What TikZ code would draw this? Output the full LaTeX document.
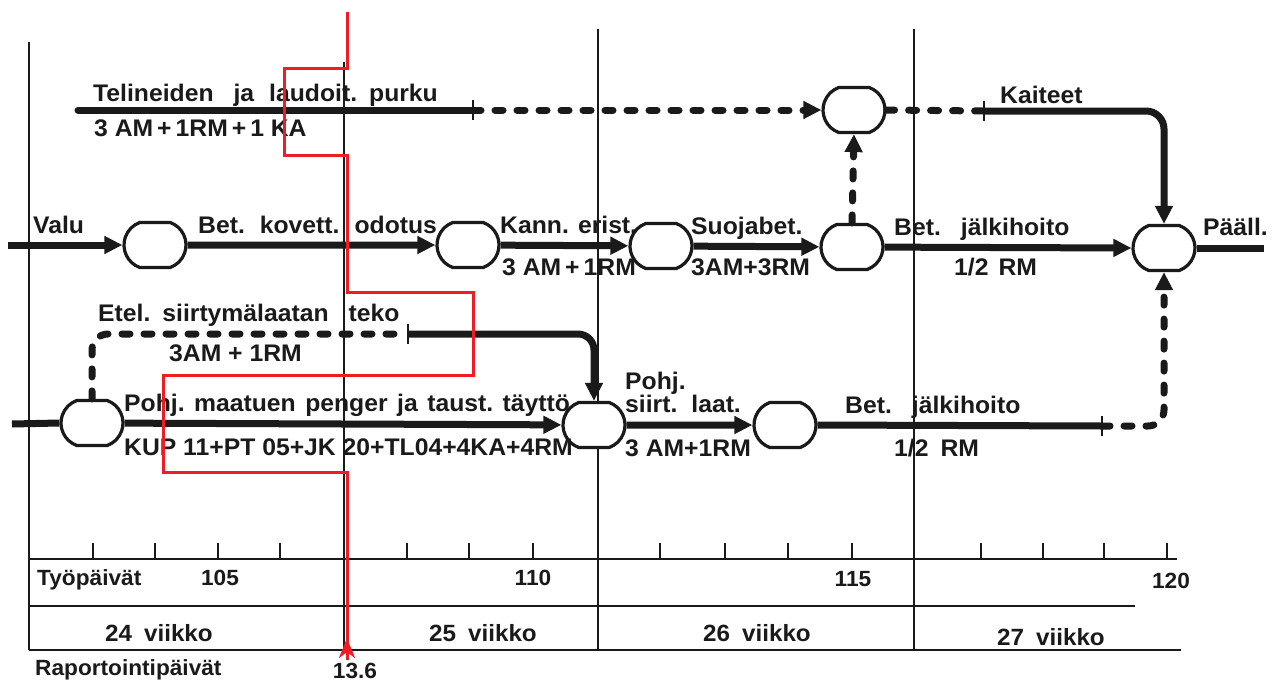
\documentclass[tikz,border=0pt]{standalone}
\usepackage{fontspec}
\setmainfont{Liberation Sans}[FakeStretch=1.03]
\usetikzlibrary{arrows.meta,shapes.misc}
\definecolor{ink}{HTML}{1A1A1A}
\definecolor{redl}{HTML}{EE1C24}
\begin{document}
\begin{tikzpicture}[x=1pt,y=-1pt,
  evt/.style={draw=ink, line width=3.2pt, rounded rectangle, rounded rectangle arc length=140, minimum width=62pt, minimum height=45pt, inner sep=0pt, fill=white},
  act/.style={draw=ink, line width=7pt},
  arr/.style={-{Triangle[length=18pt,width=17pt]}},
  dsh/.style={line cap=round, dash pattern=on 8pt off 14pt},
  thinl/.style={draw=ink, line width=1.9pt},
  tickm/.style={draw=ink, line width=2pt},
  lab/.style={font=\fontsize{24}{26}\selectfont\bfseries, inner sep=0pt, anchor=base west, text=ink},
  sml/.style={font=\fontsize{22}{24}\selectfont\bfseries, inner sep=0pt, text=ink},
  wk/.style={font=\fontsize{23.5}{26}\selectfont\bfseries, inner sep=0pt, text=ink, anchor=base},
  redline/.style={draw=redl, line width=3pt}
]
\useasboundingbox[fill=white] (0,0) rectangle (1278,683);

% week / grid lines
\draw[thinl] (29,42) -- (29,650);
\draw[thinl] (344,62) -- (344,650);
\draw[thinl] (598,29) -- (598,650);
\draw[thinl] (914,29) -- (914,650);
\draw[thinl] (29,559) -- (1177,559);
\draw[thinl] (29,606) -- (1135,606);
\draw[thinl] (29,650) -- (1181,650);
\foreach \tx in {93,155,218,280,407,469,533,660,725,788,852,981,1043,1104,1167}
  \draw[tickm] (\tx,543) -- (\tx,559);

% events
\node[evt] (n1) at (155,245) {};
\node[evt] (n2) at (468,245) {};
\node[evt] (n3) at (661,246) {};
\node[evt] (n4) at (852,247) {};
\node[evt] (n5) at (1164,248) {};
\node[evt] (t)  at (854,110) {};
\node[evt] (b1) at (92,423) {};
\node[evt] (b2) at (594,425) {};
\node[evt] (b3) at (785,425) {};

% free ends and ticks
\coordinate (vs) at (8,245);
\coordinate (ve) at (1264,248);
\coordinate (ts) at (78,110);
\coordinate (k1) at (473,110);
\coordinate (k2) at (984,111);
\coordinate (bs) at (12,424);
\coordinate (k3) at (408,334);
\coordinate (k4) at (1102,426);

% middle chain
\draw[act,arr] (vs) -- (n1.west);
\draw[act,arr] (n1) -- (n2);
\draw[act,arr] (n2) -- (n3);
\draw[act,arr] (n3) -- (n4);
\draw[act,arr] (n4) -- (n5.west);
\draw[act] (n5.east) -- (ve);
\draw[act,dsh,arr] (n4.north) -- (t.south);

% top chain
\draw[act,line cap=round] (ts) -- (k1);
\draw[act,dsh,arr] (k1) -- (t.west);
\draw[act,dsh] (t.east) -- (k2);
\draw[act,arr,rounded corners=18pt] (k2) -| (n5.north);

% bottom chain
\draw[act] (bs) -- (b1.west);
\draw[act,arr] (b1) -- (b2);
\draw[act,arr] (b2) -- (b3);
\draw[act] (b3.east) -- (k4);
\draw[act,dsh,arr,rounded corners=16pt] (k4) -| (n5.south);
\draw[act,dsh,rounded corners=16pt] (b1.north) |- (k3);
\draw[act,arr,rounded corners=16pt] (k3) -| (b2.north);

% tick marks on activities
\foreach \k in {k1,k2,k3,k4}
  \draw[tickm] ([yshift=-10pt]\k) -- ([yshift=10pt]\k);

% labels
\node[lab] (tl1) at (93,101) {Telineiden\hspace{20pt}ja\hspace{15pt}laudoit.\hspace{12pt}purku};
\node[lab] (tl2) at (94,136) {3 AM\,+\,1RM\,+\,1 KA};
\node[lab] (kai) at (1000,103) {Kaiteet};
\node[lab] (valu) at (33,233) {Valu};
\node[lab] (bk) at (198,233) {Bet.\hspace{15pt}kovett.\hspace{15pt}odotus};
\node[lab] (ke) at (500,233) {Kann. erist.};
\node[lab] (ke2) at (502,275) {3 AM\,+\,1RM};
\node[lab] (sb) at (691,234) {Suojabet.};
\node[lab] (sb2) at (691,275) {3AM+3RM};
\node[lab] (bj) at (894,235) {Bet.\hspace{20pt}jälkihoito};
\node[lab] (bj2) at (954,275) {1/2\hspace{10pt}RM};
\node[lab] (pa) at (1203,235) {Pääll.};
\node[lab] (et) at (98,321) {Etel.\hspace{12pt}siirtymälaatan\hspace{20pt}teko};
\node[lab] (et2) at (169,361) {3AM + 1RM};
\node[lab] (pm) at (124,411) {Pohj.\hspace{9.5pt}maatuen\hspace{9.5pt}penger\hspace{9.5pt}ja\hspace{9.5pt}taust.\hspace{9.5pt}täyttö};
\node[lab] (kup) at (124,455) {KUP 11+PT 05+JK 20+TL04+4KA+4RM};
\node[lab] (ps1) at (625,389) {Pohj.};
\node[lab] (ps2) at (625,412) {siirt.\hspace{14pt}laat.};
\node[lab] (ps3) at (625,456) {3 AM+1RM};
\node[lab] (bj3) at (845,413) {Bet.\hspace{20pt}jälkihoito};
\node[lab] (bj4) at (894,456) {1/2\hspace{12pt}RM};

% table texts
\node[sml,anchor=base west] (ty) at (37,585) {Työpäivät};
\node[sml,anchor=base] (d105) at (220,585) {105};
\node[sml,anchor=base] (d110) at (533,585) {110};
\node[sml,anchor=base] (d115) at (853,586) {115};
\node[sml,anchor=base] (d120) at (1171,588) {120};
\node[wk] (w24) at (159,641) {24\hspace{12pt}viikko};
\node[wk] (w25) at (483,641) {25\hspace{12pt}viikko};
\node[wk] (w26) at (757,641) {26\hspace{12pt}viikko};
\node[wk] (w27) at (1051,645) {27\hspace{12pt}viikko};
\node[sml,anchor=base west] (rp) at (35,675) {Raportointipäivät};
\node[sml,anchor=base] (d136) at (355,678) {13.6};

% red status line
\draw[redline] (347,12) -- (347,68) -- (284,68) -- (284,155) -- (347,155) -- (347,292)
  -- (473,292) -- (473,375) -- (163,375) -- (163,472) -- (347,472) -- (347,660);
\coordinate (ra) at (347,660);
\coordinate (rb) at (347,638);
\draw[redline,-{Stealth[length=20pt,width=16pt,inset=6pt]}] (ra) -- (rb);
\end{tikzpicture}
\end{document}
